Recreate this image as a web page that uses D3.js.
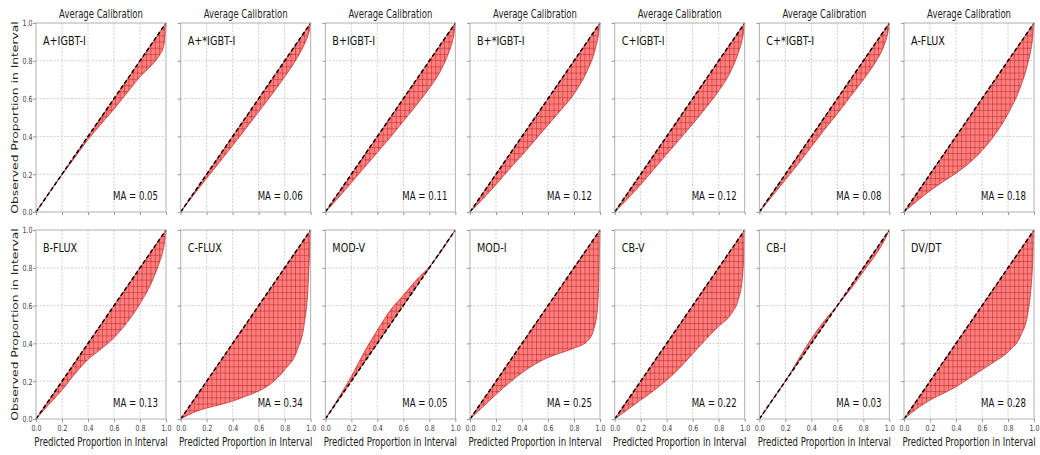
<!DOCTYPE html>
<html>
<head>
<meta charset="utf-8">
<script src="https://cdn.jsdelivr.net/npm/d3@7"></script>
<style>
  body { margin: 0; background: #fff; }
  svg { display: block; }
  text { font-family: "DejaVu Sans", sans-serif; }
</style>
</head>
<body>
<svg id="chart" width="1040" height="455"></svg>
<script>
// Predicted proportion in interval (shared x grid for every panel)
const predicted = [0, 0.1, 0.2, 0.3, 0.4, 0.5, 0.6, 0.7, 0.8, 0.9, 0.95, 0.98, 0.99, 1];

// Observed proportion in interval, one array per model / target
const obsAIgbt      = [0, 0.1, 0.197, 0.29, 0.383, 0.465, 0.545, 0.63, 0.715, 0.785, 0.83, 0.875, 0.91, 1];
const obsAStarIgbt  = [0, 0.09, 0.178, 0.265, 0.352, 0.44, 0.53, 0.62, 0.715, 0.82, 0.885, 0.935, 0.96, 1];
const obsBIgbt      = [0, 0.075, 0.155, 0.235, 0.315, 0.395, 0.48, 0.565, 0.655, 0.765, 0.845, 0.91, 0.945, 1];
const obsBStarIgbt  = [0, 0.07, 0.145, 0.225, 0.3, 0.38, 0.46, 0.54, 0.625, 0.745, 0.83, 0.91, 0.945, 1];
const obsCIgbt      = [0, 0.07, 0.145, 0.225, 0.305, 0.385, 0.465, 0.55, 0.64, 0.755, 0.84, 0.91, 0.945, 1];
const obsCStarIgbt  = [0, 0.085, 0.17, 0.255, 0.345, 0.435, 0.52, 0.61, 0.7, 0.8, 0.865, 0.925, 0.955, 1];
const obsAFlux      = [0, 0.058, 0.112, 0.16, 0.205, 0.258, 0.325, 0.41, 0.52, 0.67, 0.78, 0.875, 0.925, 1];
const obsBFlux      = [0, 0.078, 0.153, 0.24, 0.315, 0.37, 0.43, 0.51, 0.61, 0.74, 0.83, 0.9, 0.94, 1];
const obsCFlux      = [0, 0.035, 0.058, 0.075, 0.095, 0.12, 0.148, 0.19, 0.26, 0.37, 0.5, 0.7, 0.85, 1];
const obsModV       = [0, 0.11, 0.225, 0.355, 0.47, 0.575, 0.655, 0.735, 0.805, 0.895, 0.95, 0.98, 0.99, 1];
const obsModI       = [0, 0.065, 0.13, 0.19, 0.245, 0.29, 0.325, 0.35, 0.375, 0.41, 0.47, 0.58, 0.72, 1];
const obsCbV        = [0, 0.05, 0.1, 0.15, 0.205, 0.27, 0.345, 0.42, 0.49, 0.56, 0.63, 0.73, 0.82, 1];
const obsCbI        = [0, 0.1, 0.2, 0.315, 0.425, 0.52, 0.6, 0.685, 0.78, 0.875, 0.93, 0.97, 0.985, 1];
const obsDvDt       = [0, 0.055, 0.1, 0.135, 0.17, 0.215, 0.26, 0.305, 0.355, 0.445, 0.55, 0.72, 0.83, 1];

const panelNames = ["A+IGBT-I", "A+*IGBT-I", "B+IGBT-I", "B+*IGBT-I", "C+IGBT-I", "C+*IGBT-I", "A-FLUX",
                    "B-FLUX", "C-FLUX", "MOD-V", "MOD-I", "CB-V", "CB-I", "DV/DT"];
const panelObserved = [obsAIgbt, obsAStarIgbt, obsBIgbt, obsBStarIgbt, obsCIgbt, obsCStarIgbt, obsAFlux,
                       obsBFlux, obsCFlux, obsModV, obsModI, obsCbV, obsCbI, obsDvDt];
const maValues = [0.05, 0.06, 0.11, 0.12, 0.12, 0.08, 0.18, 0.13, 0.34, 0.05, 0.25, 0.22, 0.03, 0.28];

const tickValues = [0, 0.2, 0.4, 0.6, 0.8, 1.0];
const titleText = "Average Calibration";
const xLabelText = "Predicted Proportion in Interval";
const yLabelText = "Observed Proportion in Interval";

// ---- layout ----
const nCols = 7;
const left0 = 36, colStep = 144.67;
const pw = 130, ph = 189;
const rowTops = [23, 230];
const squeeze = 0.74;          // horizontal text compression

const svg = d3.select("#chart");

const defs = svg.append("defs");
const hatch = defs.append("pattern")
  .attr("id", "crossHatch")
  .attr("patternUnits", "userSpaceOnUse")
  .attr("width", 4.4).attr("height", 6.2);
hatch.append("line").attr("x1", 0.5).attr("y1", 0).attr("x2", 0.5).attr("y2", 6.2)
  .attr("stroke", "rgba(150,0,0,0.45)").attr("stroke-width", 0.8);
hatch.append("line").attr("x1", 0).attr("y1", 0.5).attr("x2", 4.4).attr("y2", 0.5)
  .attr("stroke", "rgba(150,0,0,0.45)").attr("stroke-width", 0.8);

const x = d3.scaleLinear().domain([0, 1]).range([0, pw]);
const y = d3.scaleLinear().domain([0, 1]).range([ph, 0]);

function squeezed(sel, tx, ty) {
  return sel.attr("transform", `translate(${tx},${ty}) scale(${squeeze},1)`);
}

panelNames.forEach((name, i) => {
  const row = Math.floor(i / nCols), col = i % nCols;
  const gx = left0 + col * colStep, gy = rowTops[row];
  const g = svg.append("g").attr("transform", `translate(${gx},${gy})`);
  const obs = panelObserved[i];
  const pts = predicted.map((p, k) => ({ p, o: obs[k] }));

  // grid
  const inner = tickValues.slice(1, -1);
  g.selectAll(".gx").data(inner).join("line")
    .attr("x1", d => x(d)).attr("x2", d => x(d)).attr("y1", 0).attr("y2", ph)
    .attr("stroke", "#c4c4c4").attr("stroke-width", 0.8).attr("stroke-dasharray", "2,1.5");
  g.selectAll(".gy").data(inner).join("line")
    .attr("y1", d => y(d)).attr("y2", d => y(d)).attr("x1", 0).attr("x2", pw)
    .attr("stroke", "#c4c4c4").attr("stroke-width", 0.8).attr("stroke-dasharray", "2,1.5");

  // band between the ideal diagonal and the observed curve
  const band = d3.area()
    .x(d => x(d.p))
    .y0(d => y(d.p))
    .y1(d => y(d.o))
    .curve(d3.curveMonotoneX);
  g.append("path").datum(pts).attr("d", band)
    .attr("fill", "#ff7f7f").attr("stroke", "none");
  g.append("path").datum(pts).attr("d", band)
    .attr("fill", "url(#crossHatch)")
    .attr("stroke", "#c83737").attr("stroke-width", 0.8);

  // ideal calibration diagonal
  g.append("line")
    .attr("x1", x(0)).attr("y1", y(0)).attr("x2", x(1)).attr("y2", y(1))
    .attr("stroke", "#000").attr("stroke-width", 1.5).attr("stroke-dasharray", "4,2.5");

  // frame
  g.append("rect").attr("x", 0).attr("y", 0).attr("width", pw).attr("height", ph)
    .attr("fill", "none").attr("stroke", "#b0b0b0").attr("stroke-width", 1);

  // axes (tick marks everywhere, labels only on outer panels)
  const fmt = d3.format(".1f");
  const ay = g.append("g").call(d3.axisLeft(y).tickValues(tickValues).tickSize(3)
    .tickFormat(col === 0 ? fmt : ""));
  const ax = g.append("g").attr("transform", `translate(0,${ph})`)
    .call(d3.axisBottom(x).tickValues(tickValues).tickSize(3)
    .tickFormat(row === 1 ? fmt : ""));
  [ax, ay].forEach(a => {
    a.select(".domain").remove();
    a.selectAll(".tick line").attr("stroke", "#999");
    a.selectAll("text").attr("fill", "#444").style("font-size", "8.5px")
      .style("font-family", "'DejaVu Sans', sans-serif");
  });
  ay.selectAll("text").attr("x", -3.5 / squeeze).attr("dy", "0.35em")
    .attr("transform", `scale(${squeeze},1)`);
  ax.selectAll("text").attr("y", 6).attr("dy", "0.71em")
    .attr("transform", `scale(${squeeze},1)`);

  // title
  if (row === 0) {
    squeezed(g.append("text"), pw / 2, -5)
      .attr("text-anchor", "middle").style("font-size", "11.5px").attr("fill", "#222")
      .text(titleText);
  }
  // panel name
  squeezed(g.append("text"), 7, 22)
    .style("font-size", "13px").attr("fill", "#111").text(name);
  // MA value
  squeezed(g.append("text"), pw - 8, ph - 12)
    .attr("text-anchor", "end").style("font-size", "11.6px").attr("fill", "#111")
    .text(`MA = ${maValues[i].toFixed(2)}`);

  if (row === 1) {
    squeezed(g.append("text"), pw / 2, ph + 27)
      .attr("text-anchor", "middle").style("font-size", "11.6px").attr("fill", "#222")
      .text(xLabelText);
  }
  if (col === 0) {
    g.append("text")
      .attr("transform", `translate(${-18},${ph / 2}) scale(${squeeze},1) rotate(-90)`)
      .attr("text-anchor", "middle").style("font-size", "12.3px").attr("fill", "#222")
      .text(yLabelText);
  }
});
</script>
</body>
</html>
